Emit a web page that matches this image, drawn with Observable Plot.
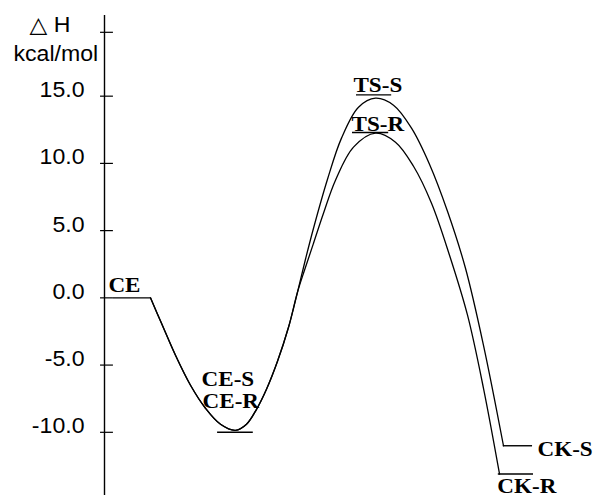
<!DOCTYPE html>
<html><head><meta charset="utf-8">
<script src="https://cdn.jsdelivr.net/npm/d3@7"></script>
<script src="https://cdn.jsdelivr.net/npm/@observablehq/plot@0.6"></script>
<style>
html,body{margin:0;padding:0;background:#fff;}
#chart svg{display:block;}
</style></head><body><div id="chart"></div>
<script>
// Y axis ticks (kcal/mol)
const tickValues = [19.75, 15, 10, 5, 0, -5, -10];
const tickLabels = ["", "15.0", "10.0", "5.0", "0.0", "-5.0", "-10.0"];

// Energy levels (horizontal bars)
const levelNames = ["CE", "CE-S/CE-R", "TS-S", "TS-R", "CK-S", "CK-R"];
const levelEnergy = [0.0, -10.0, 15.1, 12.3, -11.0, -13.1];
const levelStart = [1.8, 22.8, 50.8, 50.0, 80.4, 79.4];
const levelEnd = [9.3, 30.0, 57.9, 57.3, 86.3, 86.5];

// Shared well (CE -> CE-S/CE-R -> rising)
const wellX = [9.27, 11.49, 14.31, 17.34, 20.36, 23.39, 26.41, 28.63, 30.65, 32.66, 34.88, 37.10, 38.91];
const wellE = [0.0, -1.89, -4.27, -6.50, -8.21, -9.40, -9.85, -9.40, -8.29, -6.80, -4.72, -2.19, 0.42];
// S branch (TS-S -> CK-S)
const pathSX = [40.52, 42.14, 44.96, 47.78, 51.21, 54.64, 58.27, 61.90, 65.52, 69.15, 72.78, 76.41, 80.44];
const pathSE = [2.87, 5.18, 8.82, 11.88, 14.18, 14.85, 14.33, 12.62, 9.94, 6.44, 2.20, -3.53, -11.0];
// R branch (TS-R -> CK-R)
const pathRX = [40.32, 42.14, 44.15, 46.57, 50.20, 54.64, 58.67, 62.30, 65.93, 69.56, 73.19, 76.41, 79.64];
const pathRE = [2.05, 4.06, 6.29, 8.75, 11.21, 12.25, 11.58, 9.79, 7.04, 3.17, -1.29, -6.73, -13.1];

const yDomain = [-14.7, 21];

const toPts = (xs, es) => xs.map((x, i) => ({x, y: es[i]}));
const sPath = toPts(wellX, wellE).concat(toPts(pathSX, pathSE));
const rPath = toPts(wellX, wellE).concat(toPts(pathRX, pathRE));
const levels = levelNames.map((n, i) => ({name: n, y: levelEnergy[i], x1: levelStart[i], x2: levelEnd[i]}));
const ticks = tickValues.map((v, i) => ({y: v, label: tickLabels[i]}));

const sans = "Liberation Sans, Arial, DejaVu Sans, sans-serif";
const serif = "Liberation Serif, Times New Roman, serif";

function lab(text, i, anchorKey, dx, dy) {
  return Plot.text([levels[i]], {
    x: anchorKey, y: "y", text: () => text, textAnchor: "start", lineAnchor: "bottom",
    dx, dy, fontFamily: serif, fontWeight: "bold", fontSize: 22, fill: "black"
  });
}

const chart = Plot.plot({
  width: 602, height: 497,
  marginLeft: 104, marginRight: 2, marginTop: 15, marginBottom: 2,
  x: {domain: [0, 100], axis: null},
  y: {domain: yDomain, axis: null},
  style: {background: "white"},
  marks: [
    // axis line
    Plot.ruleX([0], {y1: yDomain[0], y2: yDomain[1], stroke: "black", strokeWidth: 1.4}),
    // ticks
    Plot.ruleY(ticks, {y: "y", x1: -0.8, x2: 1.8, stroke: "black", strokeWidth: 1.2}),
    Plot.text(ticks, {x: 0, y: "y", text: "label", textAnchor: "end", lineAnchor: "bottom",
      dx: -20, dy: 1, fontFamily: sans, fontSize: 22, fill: "black"}),
    // axis title
    Plot.text(["\u25B3 H"], {x: 0, y: yDomain[1], text: d => d, textAnchor: "start", lineAnchor: "bottom",
      dx: -75, dy: 16, fontFamily: sans, fontSize: 22, fill: "black"}),
    Plot.text(["kcal/mol"], {x: 0, y: yDomain[1], text: d => d, textAnchor: "start", lineAnchor: "bottom",
      dx: -91, dy: 45, fontFamily: sans, fontSize: 22, fill: "black"}),
    // levels
    Plot.ruleY(levels, {y: "y", x1: "x1", x2: "x2", stroke: "black", strokeWidth: 1.4}),
    // energy paths
    Plot.line(sPath, {x: "x", y: "y", curve: "catmull-rom", stroke: "black", strokeWidth: 1.3}),
    Plot.line(rPath, {x: "x", y: "y", curve: "catmull-rom", stroke: "black", strokeWidth: 1.3}),
    // labels
    lab("CE", 0, "x1", -5, -6),
    lab("CE-S", 1, "x1", -16, -46),
    lab("CE-R", 1, "x1", -15, -24),
    lab("TS-S", 2, "x1", -3, -3),
    lab("TS-R", 3, "x1", -1, -1),
    lab("CK-S", 4, "x2", 5, 10),
    lab("CK-R", 5, "x1", -1, 19)
  ]
});
// slight horizontal stretch of the text, as in the reference
d3.select(chart).selectAll("text").each(function () {
  const t = this.getAttribute("transform");
  if (t) this.setAttribute("transform", t + " scale(1.05,1)");
});
document.getElementById("chart").appendChild(chart);
</script>
</body></html>
